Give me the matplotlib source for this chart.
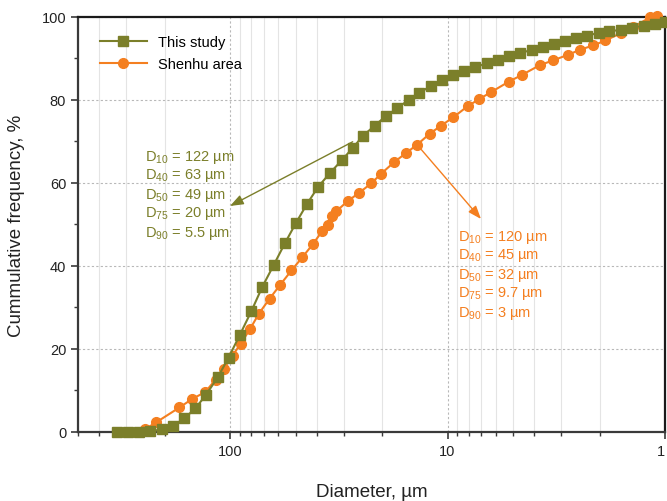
import numpy as np
import matplotlib
matplotlib.use("Agg")
import matplotlib.pyplot as plt
from matplotlib.ticker import LogLocator, NullFormatter, FixedLocator, MultipleLocator

plt.rcParams["font.family"] = ["Liberation Sans", "DejaVu Sans"]
plt.rcParams["mathtext.fontset"] = "custom"
plt.rcParams["mathtext.rm"] = "Liberation Sans"
plt.rcParams["mathtext.it"] = "Liberation Sans"

# ── data ──────────────────────────────────────────────────────────────────────
study_d = [332, 293.6, 261.3, 232.5, 206.2, 182.7, 162.1, 144.2, 128.8, 113.8,
           101.6, 90.1, 79.8, 71.0, 63.0, 55.9, 49.7, 44.3, 39.4, 34.7,
           30.7, 27.3, 24.4, 21.6, 19.2, 17.0, 15.1, 13.5, 11.95, 10.6,
           9.4, 8.37, 7.44, 6.60, 5.85, 5.21, 4.63, 4.11, 3.64, 3.24,
           2.87, 2.56, 2.28, 2.02, 1.80, 1.59, 1.42, 1.25, 1.11, 1.00]
study_cum = [0, 0, 0, 0.2, 0.6, 1.5, 3.3, 5.7, 9.0, 13.2,
             17.9, 23.4, 29.1, 35.0, 40.2, 45.5, 50.4, 54.9, 59.0, 62.4,
             65.4, 68.4, 71.4, 73.8, 76.1, 78.0, 80.0, 81.7, 83.3, 84.7,
             85.9, 86.9, 87.9, 88.8, 89.7, 90.5, 91.3, 92.0, 92.8, 93.4,
             94.2, 94.9, 95.5, 96.1, 96.5, 96.9, 97.4, 97.9, 98.3, 98.7]

shenhu_d = [245.2, 218.9, 170.9, 148.9, 130.1, 116.6, 107.1, 97.4, 89.5, 80.9,
            73.7, 65.8, 59.1, 52.2, 46.5, 41.5, 37.6, 35.4, 33.8, 32.4,
            28.8, 25.5, 22.4, 20.2, 17.6, 15.5, 13.8, 12.1, 10.7, 9.4,
            8.07, 7.14, 6.29, 5.22, 4.55, 3.75, 3.27, 2.78, 2.45, 2.14,
            1.88, 1.59, 1.40, 1.17, 1.09]
shenhu_cum = [0.7, 2.3, 5.9, 8.0, 9.6, 12.6, 15.2, 18.4, 21.2, 24.8,
              28.5, 32.1, 35.3, 38.9, 42.1, 45.3, 48.5, 49.9, 52.0, 53.2,
              55.6, 57.6, 59.9, 62.2, 65.0, 67.2, 69.2, 71.8, 73.8, 75.8,
              78.5, 80.2, 81.9, 84.4, 86.0, 88.4, 89.5, 90.9, 92.1, 93.1,
              94.3, 96.1, 97.5, 99.9, 100.3]

study_stats = [("10", "122 µm"), ("40", "63 µm"), ("50", "49 µm"),
               ("75", "20 µm"), ("90", "5.5 µm")]
shenhu_stats = [("10", "120 µm"), ("40", "45 µm"), ("50", "32 µm"),
                ("75", "9.7 µm"), ("90", "3 µm")]

OLIVE = "#7b7f2a"
ORANGE = "#f47f20"

fig = plt.figure(figsize=(6.67, 5.02), dpi=100)
ax = fig.add_axes([0.117, 0.1375, 0.880, 0.827])

ax.plot(study_d, study_cum, color=OLIVE, marker="s", markersize=6.5,
        linewidth=1.5, label="This study", clip_on=False, zorder=4)
ax.plot(shenhu_d, shenhu_cum, color=ORANGE, marker="o", markersize=7,
        linewidth=1.5, label="Shenhu area", clip_on=False, zorder=3)

ax.set_xscale("log")
ax.set_xlim(500, 1)
ax.set_ylim(0, 100)

ax.xaxis.set_major_locator(FixedLocator([100, 10, 1]))
ax.xaxis.set_major_formatter(matplotlib.ticker.FixedFormatter(["100", "10", "1"]))
ax.xaxis.set_minor_locator(LogLocator(base=10, subs=np.arange(2, 10), numticks=20))
ax.xaxis.set_minor_formatter(NullFormatter())
ax.yaxis.set_major_locator(MultipleLocator(20))
ax.yaxis.set_minor_locator(MultipleLocator(10))

# grids
ax.grid(which="minor", axis="x", color="#e4e4e4", linewidth=0.8, linestyle="-")
ax.grid(which="major", axis="x", color="#b8b8b8", linewidth=0.8, linestyle=(0, (2, 2)))
ax.grid(which="major", axis="y", color="#b8b8b8", linewidth=0.8, linestyle=(0, (2, 2)))
ax.set_axisbelow(True)

for side in ["left", "bottom"]:
    ax.spines[side].set_color("#3a3a3a")
    ax.spines[side].set_linewidth(1.6)
for side in ["top", "right"]:
    ax.spines[side].set_color("#1a1a1a")
    ax.spines[side].set_linewidth(1.6)

ax.tick_params(which="major", direction="out", length=5, width=1.2,
               color="#3a3a3a", labelsize=10.5, labelcolor="#222222")
ax.tick_params(which="minor", direction="out", length=3, width=1.0, color="#3a3a3a")

# keep the last tick label ("1") inside the canvas
fig.canvas.draw()
ax.get_xticklabels()[-1].set_horizontalalignment("right")

ax.set_xlabel("Diameter, µm", fontsize=13.5, color="#222222", labelpad=18)
ax.set_ylabel("Cummulative frequency, %", fontsize=13.5, color="#222222", labelpad=12)

ax.legend(loc="upper left", bbox_to_anchor=(0.02, 0.98), frameon=False,
          fontsize=10.5, handlelength=3.2, labelspacing=0.5, borderaxespad=0.3)

fig_h = fig.get_figheight() * fig.dpi
fig_w = fig.get_figwidth() * fig.dpi


def px(x, y):
    """figure pixel (top-left origin) -> figure fraction"""
    return x / fig_w, 1 - y / fig_h


# stats text blocks
for i, (k, v) in enumerate(study_stats):
    fx, fy = px(145, 157 + i * 19)
    fig.text(fx, fy, "D$_{\\mathregular{%s}}$ = %s" % (k, v), color=OLIVE,
             fontsize=10.5, ha="left", va="center")
for i, (k, v) in enumerate(shenhu_stats):
    fx, fy = px(458, 237 + i * 19)
    fig.text(fx, fy, "D$_{\\mathregular{%s}}$ = %s" % (k, v), color=ORANGE,
             fontsize=10.5, ha="left", va="center")

# arrows from curves to text blocks
ax.annotate("", xy=px(230, 207), xycoords="figure fraction",
            xytext=(study_d[21], study_cum[21] + 1.5), textcoords="data",
            arrowprops=dict(arrowstyle="-|>,head_length=0.8,head_width=0.3",
                            color=OLIVE, lw=1.0, shrinkA=0, shrinkB=0))
ax.annotate("", xy=px(481, 220), xycoords="figure fraction",
            xytext=(shenhu_d[26], shenhu_cum[26]), textcoords="data",
            arrowprops=dict(arrowstyle="-|>,head_length=0.8,head_width=0.3",
                            color=ORANGE, lw=1.0, shrinkA=0, shrinkB=0))

fig.savefig("out.png", dpi=100)
